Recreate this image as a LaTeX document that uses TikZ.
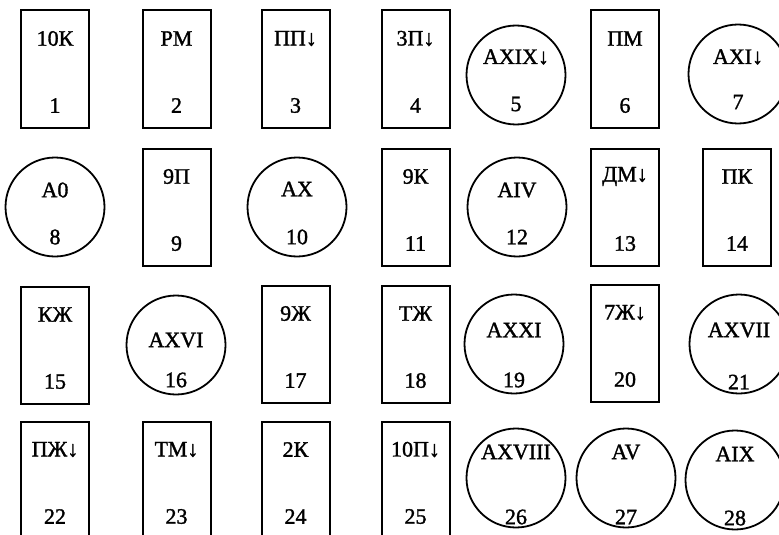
\documentclass[tikz,border=0pt]{standalone}
\usepackage{fontspec}
\setmainfont[BoldFont={Liberation Serif},BoldFeatures={FakeBold=1.4}]{Liberation Serif}
\usetikzlibrary{positioning}
\tikzset{
  cellbox/.style={draw=black, line width=2pt, minimum width=68pt, minimum height=117pt, inner sep=0pt},
  celldisk/.style={circle, draw=black, line width=1.8pt, minimum size=99pt, inner sep=0pt},
  celltxt/.style={font=\fontsize{22}{25}\selectfont\bfseries, inner sep=0pt},
}
\begin{document}
\begin{tikzpicture}[x=1pt,y=-1pt]
  \useasboundingbox (0,0) rectangle (779,535);
  \clip (0,0) rectangle (779,535);
  % rectangular cells: number/x/y/label
  \foreach \n/\x/\y/\t in {1/55/69/10К, 2/176.5/69/РМ, 3/295.5/69/ПП↓, 4/415.5/69/3П↓,
      6/625/69/ПМ, 9/176.5/207/9П, 11/415.5/207/9К, 13/625/207/ДМ↓, 14/737/207/ПК,
      15/55/345/КЖ, 17/295.5/344/9Ж, 18/415.5/344/ТЖ, 20/625/343/7Ж↓,
      22/55/480/ПЖ↓, 23/176.5/480/ТМ↓, 24/295.5/480/2К, 25/415.5/480/10П↓}{
    \node[cellbox] (box\n) at (\x,\y) {};
    \node[celltxt] (top\n) at ([yshift=-29pt]box\n.north) {\t};
    \node[celltxt] (num\n) at ([yshift=23pt]box\n.south) {\n};
  }
  % round cells: number/x/y/label/label offset/number offset
  \foreach \n/\x/\y/\t/\up/\dn in {5/516/75/AXIX↓/18/29, 7/738/74/AXI↓/17/28,
      8/55/207/A0/17/30, 10/297/207/AX/18/30, 12/517/207/AIV/17/30,
      16/176/345/AXVI/5/35, 19/514/344/AXXI/14/36, 21/739/344/AXVII/14/38,
      26/516/478/AXVIII/26/39, 27/626/478/AV/26/39, 28/735/480/AIX/26/38}{
    \node[celldisk] (disk\n) at (\x,\y) {};
    \node[celltxt] (top\n) at ([yshift=\up pt]disk\n.center) {\t};
    \node[celltxt] (num\n) at ([yshift=-\dn pt]disk\n.center) {\n};
  }
\end{tikzpicture}
\end{document}
